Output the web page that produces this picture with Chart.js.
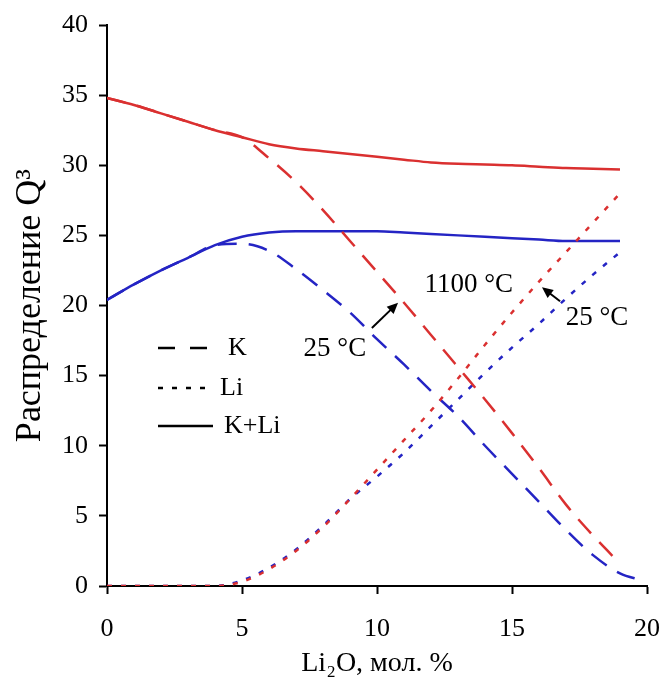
<!DOCTYPE html>
<html>
<head>
<meta charset="utf-8">
<script src="https://cdn.jsdelivr.net/npm/chart.js@4/dist/chart.umd.min.js"></script>
<style>
  body { margin: 0; background: #fff; }
  #chart { display: block; }
</style>
</head>
<body>
<canvas id="chart" width="665" height="686"></canvas>
<script>
// Li2O content, mol. %
var li2o = [0, 1, 2, 3, 4, 5, 6, 7, 8, 9, 10, 11, 12, 13, 14, 15, 16, 17, 18, 19, 19.8];

// Q3 distribution at 1100 °C
var k1100   = [34.8, 34.3, 33.7, 33.1, 32.5, 32.0, 30.5, 28.8, 26.8, 24.6, 22.4, 20.2, 17.9, 15.6, 13.3, 10.9, 8.4, 5.8, 3.6, 1.6, null];
var li1100  = [0, 0, 0, 0, 0, 0.3, 1.2, 2.5, 4.2, 6.2, 8.3, 10.4, 12.5, 14.8, 17.2, 19.5, 21.7, 23.8, 25.9, 28.0, null];
var sum1100 = [34.8, 34.3, 33.7, 33.1, 32.5, 32.0, 31.5, 31.2, 31.0, 30.8, 30.6, 30.4, 30.2, 30.1, 30.05, 30.0, 29.9, 29.8, 29.75, 29.7, null];

// Q3 distribution at 25 °C
var k25   = [20.4, 21.5, 22.5, 23.4, 24.3, 24.4, 23.9, 22.6, 21.1, 19.5, 17.6, 15.8, 13.9, 12.1, 10.0, 8.0, 6.0, 4.0, 2.2, 0.9, 0.4];
var li25  = [0, 0, 0, 0, 0, 0.4, 1.3, 2.6, 4.3, 6.2, 7.8, 9.5, 11.4, 13.3, 15.2, 17.0, 18.7, 20.5, 22.2, 23.8, null];
var sum25 = [20.4, 21.5, 22.5, 23.4, 24.3, 24.9, 25.2, 25.3, 25.3, 25.3, 25.3, 25.2, 25.1, 25.0, 24.9, 24.8, 24.7, 24.6, 24.6, 24.6, null];

var xTicks = [0, 5, 10, 15, 20];
var yTicks = [0, 5, 10, 15, 20, 25, 30, 35, 40];

var RED = 'rgb(218, 48, 48)';
var BLUE = 'rgb(36, 36, 196)';
var SERIF = '"Liberation Serif", "Times New Roman", serif';
var DASH = [19, 12];
var DOT = [5, 9];

function points(ys) {
    return li2o.map(function (x, i) { return { x: x, y: ys[i] }; });
}

function series(ys, color, dash) {
    return {
        data: points(ys),
        borderColor: color,
        borderWidth: 2.5,
        borderDash: dash,
        pointRadius: 0,
        fill: false,
        spanGaps: false,
        cubicInterpolationMode: 'monotone'
    };
}

// legend in the lower left of the plot area
var legendPlugin = {
    id: 'insideLegend',
    afterDraw: function (chart) {
        var ctx = chart.ctx;
        var left = chart.chartArea.left + 51;
        var rows = [
            { text: 'K', dash: [17, 15], y: 348, tx: 228 },
            { text: 'Li', dash: [5, 9], y: 388, tx: 220 },
            { text: 'K+Li', dash: [], y: 426, tx: 224 }
        ];
        ctx.save();
        ctx.strokeStyle = '#000';
        ctx.lineWidth = 2.5;
        ctx.fillStyle = '#000';
        ctx.font = '26px ' + SERIF;
        ctx.textBaseline = 'middle';
        rows.forEach(function (r) {
            ctx.setLineDash(r.dash);
            ctx.beginPath();
            ctx.moveTo(left, r.y);
            ctx.lineTo(left + 55, r.y);
            ctx.stroke();
            ctx.fillText(r.text, r.tx, r.y);
        });
        ctx.restore();
    }
};

// temperature labels with arrows pointing at the curves
var notesPlugin = {
    id: 'tempNotes',
    afterDatasetsDraw: function (chart) {
        var ctx = chart.ctx;
        var sx = chart.scales.x, sy = chart.scales.y;
        var labels = [
            { text: '1100 °C', x: 13.4, y: 21.5 },
            { text: '25 °C', x: 8.44, y: 16.9 },
            { text: '25 °C', x: 18.15, y: 19.1 }
        ];
        var arrows = [
            [9.81, 18.4, 10.78, 20.2],
            [16.78, 20.3, 16.11, 21.3]
        ];
        ctx.save();
        ctx.fillStyle = '#000';
        ctx.strokeStyle = '#000';
        ctx.font = '27px ' + SERIF;
        ctx.textAlign = 'center';
        ctx.textBaseline = 'middle';
        labels.forEach(function (l) {
            ctx.fillText(l.text, sx.getPixelForValue(l.x), sy.getPixelForValue(l.y));
        });
        ctx.lineWidth = 2;
        arrows.forEach(function (a) {
            var x1 = sx.getPixelForValue(a[0]), y1 = sy.getPixelForValue(a[1]);
            var x2 = sx.getPixelForValue(a[2]), y2 = sy.getPixelForValue(a[3]);
            var ang = Math.atan2(y2 - y1, x2 - x1);
            ctx.beginPath();
            ctx.moveTo(x1, y1);
            ctx.lineTo(x2 - 6 * Math.cos(ang), y2 - 6 * Math.sin(ang));
            ctx.stroke();
            ctx.beginPath();
            ctx.moveTo(x2, y2);
            ctx.lineTo(x2 - 11 * Math.cos(ang) + 5 * Math.sin(ang), y2 - 11 * Math.sin(ang) - 5 * Math.cos(ang));
            ctx.lineTo(x2 - 11 * Math.cos(ang) - 5 * Math.sin(ang), y2 - 11 * Math.sin(ang) + 5 * Math.cos(ang));
            ctx.closePath();
            ctx.fill();
        });
        ctx.restore();
    }
};

var axisFont = { family: SERIF, size: 26 };

new Chart(document.getElementById('chart'), {
    type: 'line',
    data: {
        datasets: [
            series(sum1100, RED, []),
            series(k1100, RED, DASH),
            series(li1100, RED, DOT),
            series(sum25, BLUE, []),
            series(k25, BLUE, DASH),
            series(li25, BLUE, DOT)
        ]
    },
    options: {
        responsive: false,
        animation: false,
        layout: { padding: { top: 25, right: 18, left: 0, bottom: 0 } },
        plugins: {
            legend: { display: false },
            tooltip: { enabled: false }
        },
        scales: {
            x: {
                type: 'linear',
                min: 0,
                max: 20,
                afterFit: function (scale) {
                    scale.height = 100;
                    scale.paddingLeft = 0;
                    scale.paddingRight = 0;
                },
                afterBuildTicks: function (scale) {
                    scale.ticks = xTicks.map(function (v) { return { value: v }; });
                },
                ticks: { color: '#000', font: axisFont, padding: 20, maxRotation: 0 },
                grid: { drawOnChartArea: false, tickLength: 8, tickColor: '#000', tickWidth: 2 },
                border: { color: '#000', width: 2 },
                title: {
                    display: true,
                    text: 'Li₂O, мол. %',
                    color: '#000',
                    font: { family: SERIF, size: 28 },
                    padding: { top: 0, bottom: 6 }
                }
            },
            y: {
                min: 0,
                max: 40,
                afterFit: function (scale) {
                    scale.width = 107;
                    scale.paddingTop = 0;
                    scale.paddingBottom = 0;
                },
                afterBuildTicks: function (scale) {
                    scale.ticks = yTicks.map(function (v) { return { value: v }; });
                },
                ticks: { color: '#000', font: axisFont, padding: 11 },
                grid: { drawOnChartArea: false, tickLength: 8, tickColor: '#000', tickWidth: 2 },
                border: { color: '#000', width: 2 },
                title: {
                    display: true,
                    text: 'Распределение Q³',
                    color: '#000',
                    font: { family: SERIF, size: 36 },
                    padding: { top: 9, bottom: 0 }
                }
            }
        }
    },
    plugins: [legendPlugin, notesPlugin]
});
</script>
</body>
</html>
